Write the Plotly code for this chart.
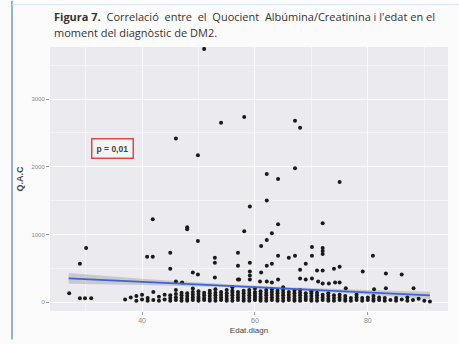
import plotly.graph_objects as go

# Scattered points (age at diagnosis, Q.A.C)
scatter_age = [51.0, 54.0, 58.1, 67.1, 68.0, 46.0, 49.9, 62.1, 64.1, 67.1, 75.0, 62.1, 59.1,
               41.9, 48.0, 48.0, 58.1, 64.1, 72.0, 63.0, 62.1, 61.1, 49.9, 30.1, 29.0,
               40.9, 41.9, 45.0, 45.0, 52.9, 52.9, 57.0, 57.0, 59.1, 49.0, 49.9, 52.9, 57.0,
               59.1, 59.1, 59.1, 61.1, 63.0, 62.1, 64.1, 66.0, 67.1, 68.0, 69.0, 70.1, 70.1,
               72.0, 72.0, 72.0, 71.0, 72.0, 74.0, 75.0, 79.1, 80.9, 83.2, 86.0,
               46.0, 47.1, 57.2, 60.9, 62.1, 63.0, 64.1, 68.0, 69.0, 70.1, 71.2, 72.0, 73.1,
               74.2, 75.0, 76.1, 81.1, 83.2, 88.1, 27.1, 29.0, 29.9, 31.0]
scatter_qac = [3742, 2650, 2737, 2679, 2577, 2417, 2169, 1893, 1820, 1980, 1776, 1500, 1412,
               1223, 1107, 1077, 1048, 1150, 1165, 1019, 917, 830, 903, 800, 568,
               670, 670, 728, 495, 655, 582, 728, 539, 582, 437, 408, 364, 335,
               451, 393, 335, 437, 568, 539, 684, 655, 684, 480, 568, 684, 815,
               800, 757, 713, 466, 466, 495, 524, 451, 684, 422, 408,
               306, 291, 335, 306, 306, 291, 335, 350, 335, 350, 306, 277, 277,
               291, 291, 204, 189, 204, 204, 131, 58, 58, 58]

# Dense low band (age, Q.A.C)
band_age = ([37, 38, 39, 39, 40, 40, 41, 41, 42, 42, 43, 43, 44, 44] +
            [45] * 3 + [46] * 4 + [47] * 4 + [48] * 4 + [49] * 5 + [50] * 5 + [51] * 4 +
            [52] * 5 + [53] * 5 + [54] * 4 + [55] * 5 + [56] * 6 + [57] * 4 + [58] * 5 +
            [59] * 5 + [60] * 6 + [61] * 5 + [62] * 5 + [63] * 5 + [64] * 5 + [65] * 6 +
            [66] * 4 + [67] * 5 + [68] * 5 + [69] * 4 + [70] * 5 + [71] * 4 + [72] * 3 +
            [73] * 4 + [74] * 3 + [75] * 3 + [76] * 3 + [77] * 2 + [78] * 3 + [79] * 2 +
            [80] * 2 + [81] * 3 + [82] * 2 + [83] * 2 + [84] + [85] * 2 + [86] + [87] * 2 +
            [88, 89, 90, 91])
band_qac = ([40, 70, 20, 90, 40, 110, 20, 60, 30, 150, 20, 80, 40, 110] +
            [20, 60, 100] + [30, 70, 120, 180] + [20, 60, 100, 140] + [20, 50, 90, 130] +
            [30, 70, 110, 150, 200] + [20, 50, 80, 120, 160] + [30, 60, 100, 140] +
            [20, 50, 90, 130, 170] + [20, 60, 100, 140, 190] + [30, 70, 110, 150] +
            [20, 50, 90, 130, 180] + [20, 60, 100, 140, 170, 220] + [30, 70, 110, 150] +
            [20, 50, 90, 130, 170] + [20, 60, 100, 140, 180] + [30, 60, 90, 120, 150, 200] +
            [20, 50, 80, 120, 160] + [20, 60, 100, 140, 180] + [30, 70, 110, 150, 190] +
            [20, 50, 90, 130, 170] + [20, 60, 100, 140, 180, 220] + [30, 70, 110, 150] +
            [20, 50, 90, 130, 170] + [20, 60, 100, 140, 180] + [30, 60, 90, 130] +
            [20, 50, 90, 130, 160] + [20, 60, 100, 140] + [30, 70, 110] + [20, 50, 90, 130] +
            [20, 60, 100] + [30, 70, 110] + [20, 50, 90] + [20, 60] + [30, 70, 110] + [20, 60] +
            [30, 70] + [20, 50, 90] + [30, 70] + [20, 60] + [30] + [20, 60] + [40] + [20, 70] +
            [30, 50, 20, 10])

# Linear fit with confidence band
fit_age = [27, 40, 55, 65, 80, 91]
fit_qac = [350, 299, 241, 202, 143, 100]
fit_lo = [270, 254, 219, 182, 108, 45]
fit_hi = [430, 344, 263, 222, 178, 155]

x_ticks = [40, 60, 80]
y_ticks = [0, 1000, 2000, 3000]

W, H = 459, 344
ML, MR, MT, MB = 50, 11, 47, 29
pw, ph = W - ML - MR, H - MT - MB

def px(x):
    return (x - ML) / pw

def py(y):
    return (H - MB - y) / ph

fig = go.Figure()
fig.add_trace(go.Scatter(x=fit_age + fit_age[::-1], y=fit_hi + fit_lo[::-1], fill="toself",
                         fillcolor="rgba(160,160,165,0.45)", line=dict(width=0),
                         mode="lines", hoverinfo="skip", showlegend=False))
fig.add_trace(go.Scatter(x=band_age, y=band_qac, mode="markers",
                         marker=dict(color="#1a1a1a", size=4), showlegend=False))
fig.add_trace(go.Scatter(x=scatter_age, y=scatter_qac, mode="markers",
                         marker=dict(color="#1a1a1a", size=4), showlegend=False))
fig.add_trace(go.Scatter(x=fit_age, y=fit_qac, mode="lines",
                         line=dict(color="#3D63D8", width=1.8), showlegend=False))

grid = "rgba(255,255,255,0.75)"
fig.update_layout(
    width=W, height=H,
    margin=dict(l=ML, r=MR, t=MT, b=MB),
    paper_bgcolor="#FBFBFC",
    plot_bgcolor="#EBEBEF",
    font=dict(family="Liberation Sans", color="#333333"),
    xaxis=dict(range=[23.7, 94.2], tickvals=x_ticks, ticks="outside", ticklen=3,
               tickcolor="#999999", tickfont=dict(size=7, color="#888888"),
               showgrid=True, gridcolor=grid, gridwidth=1, zeroline=False,
               minor=dict(tickvals=[30, 50, 70, 90], showgrid=True, gridcolor="rgba(255,255,255,0.45)"),
               title=dict(text="Edat.diagn", font=dict(size=8, color="#444444"), standoff=3)),
    yaxis=dict(range=[-131, 3770], tickvals=y_ticks, ticks="outside", ticklen=3,
               tickcolor="#999999", tickfont=dict(size=6, color="#888888"),
               showgrid=True, gridcolor=grid, gridwidth=1, zeroline=False,
               minor=dict(tickvals=[500, 1500, 2500, 3500], showgrid=True, gridcolor="rgba(255,255,255,0.45)"),
               title=dict(text="<b>Q.A.C</b>", font=dict(size=9, color="#444444"), standoff=6)),
    annotations=[
        dict(text="<b>Figura 7.</b>  Correlació  entre  el  Quocient  Albúmina/Creatinina i l'edat en el",
             xref="paper", yref="paper", x=px(52), y=py(16), xanchor="left", yanchor="middle",
             showarrow=False, font=dict(family="Open Sans", size=11, color="#333333")),
        dict(text="moment del diagnòstic de DM2.",
             xref="paper", yref="paper", x=px(52), y=py(32), xanchor="left", yanchor="middle",
             showarrow=False, font=dict(family="Open Sans", size=11, color="#333333")),
        dict(text="<b>p = 0,01</b>", x=34.7, y=2271, xref="x", yref="y", showarrow=False,
             font=dict(size=8.5, color="#444444"), bgcolor="#F4F4F6",
             bordercolor="#E0474C", borderwidth=1.5, borderpad=4),
    ],
    shapes=[
        dict(type="line", xref="paper", yref="paper", x0=px(12), x1=px(12), y0=py(0), y1=py(H),
             line=dict(color="#8FB4DA", width=2)),
        dict(type="line", xref="paper", yref="paper", x0=px(12), x1=px(W), y0=py(4), y1=py(4),
             line=dict(color="#D5E3F1", width=1)),
    ],
)

fig.write_html("out.html", config={"displayModeBar": False},
               post_script="document.body.style.margin='0';document.body.style.overflow='hidden';")
